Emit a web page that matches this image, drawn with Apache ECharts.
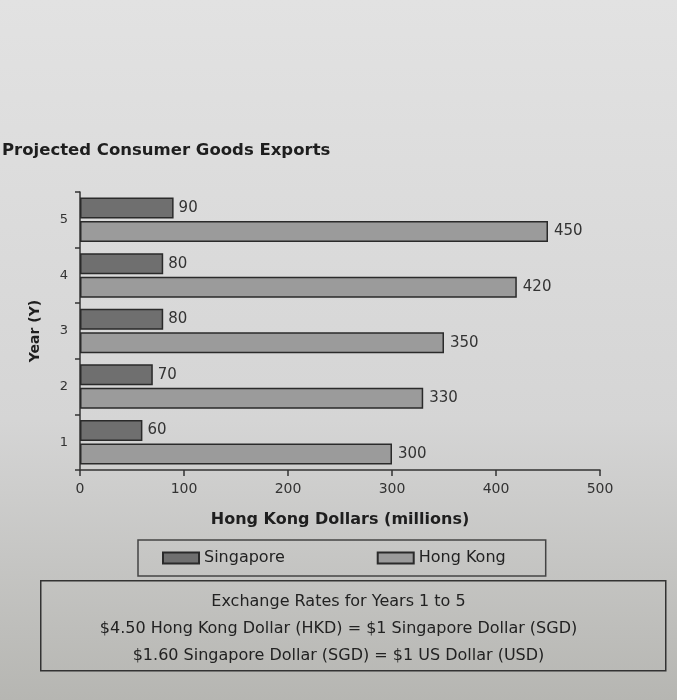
<!DOCTYPE html>
<html>
<head>
<meta charset="utf-8">
<script src="https://cdn.jsdelivr.net/npm/echarts@6/dist/echarts.min.js"></script>
<style>html,body{margin:0;padding:0;}#c{width:677px;height:700px;}</style>
</head>
<body>
<div id="c"></div>
<script>
const years = ['1', '2', '3', '4', '5'];
const singapore = [60, 70, 80, 80, 90];
const hongKong = [300, 330, 350, 420, 450];
const xTicks = [0, 100, 200, 300, 400, 500];
const noteLines = [
  'Exchange Rates for Years 1 to 5',
  '$4.50 Hong Kong Dollar (HKD) = $1 Singapore Dollar (SGD)',
  '$1.60 Singapore Dollar (SGD) = $1 US Dollar (USD)'
];

const FONT = 'DejaVu Sans';
const chart = echarts.init(document.getElementById('c'));
chart.setOption({
  backgroundColor: {
    type: 'linear', x: 0, y: 0, x2: 0, y2: 1,
    colorStops: [
      { offset: 0, color: '#e2e2e2' },
      { offset: 0.6, color: '#d5d5d5' },
      { offset: 1, color: '#b6b6b2' }
    ]
  },
  animation: false,
  title: {
    text: 'Projected Consumer Goods Exports',
    left: -3, top: 137,
    textStyle: { fontFamily: FONT, fontSize: 16.5, fontWeight: 'bold', color: '#1e1e1e' }
  },
  grid: { left: 80, right: 77, top: 192, bottom: 230, containLabel: false },
  legend: {
    data: ['Singapore', 'Hong Kong'],
    left: 138, top: 540,
    padding: [10, 40, 10, 24],
    borderColor: '#444', borderWidth: 1.5,
    itemWidth: 36, itemHeight: 11, itemGap: 92,
    icon: 'rect',
    textStyle: { fontFamily: FONT, fontSize: 16, color: '#222' }
  },
  xAxis: {
    type: 'value', min: 0, max: 500, interval: 100,
    name: 'Hong Kong Dollars (millions)',
    nameLocation: 'middle', nameGap: 42,
    nameTextStyle: { fontFamily: FONT, fontSize: 16, fontWeight: 'bold', color: '#1e1e1e' },
    axisLine: { show: true, lineStyle: { color: '#333', width: 1.5 } },
    axisTick: { show: true, length: 6, lineStyle: { color: '#333', width: 1.5 } },
    axisLabel: {
      fontFamily: FONT, fontSize: 14, color: '#333', margin: 12,
      formatter: v => xTicks.includes(v) ? String(v) : ''
    },
    splitLine: { show: false }
  },
  yAxis: {
    type: 'category', data: years,
    name: 'Year (Y)', nameLocation: 'middle', nameGap: 38, nameRotate: 90,
    nameTextStyle: { fontFamily: FONT, fontSize: 14, fontWeight: 'bold', color: '#1e1e1e' },
    axisLine: { show: true, lineStyle: { color: '#333', width: 1.5 } },
    axisTick: { show: true, length: 5, lineStyle: { color: '#333', width: 1.5 } },
    axisLabel: { fontFamily: FONT, fontSize: 13, color: '#333', margin: 12 }
  },
  series: [
    {
      name: 'Singapore', type: 'bar', data: singapore,
      barWidth: 21, barGap: '12%',
      itemStyle: { color: '#6f6f6f', borderColor: '#2a2a2a', borderWidth: 1.5 },
      label: { show: true, position: 'right', distance: 5, fontFamily: FONT, fontSize: 15, color: '#333' }
    },
    {
      name: 'Hong Kong', type: 'bar', data: hongKong,
      barWidth: 21,
      itemStyle: { color: '#9b9b9b', borderColor: '#2a2a2a', borderWidth: 1.5 },
      label: { show: true, position: 'right', distance: 6, fontFamily: FONT, fontSize: 15, color: '#333' }
    }
  ],
  graphic: [
    {
      type: 'rect', left: 40, top: 580,
      shape: { width: 625, height: 90 },
      style: { fill: 'transparent', stroke: '#333', lineWidth: 1.5 }
    },
    ...noteLines.map((t, i) => ({
      type: 'text', left: 'center', top: 594 + i * 27,
      style: { text: t, fontFamily: FONT, fontSize: 16, fill: '#222' }
    }))
  ]
});
</script>
</body>
</html>
